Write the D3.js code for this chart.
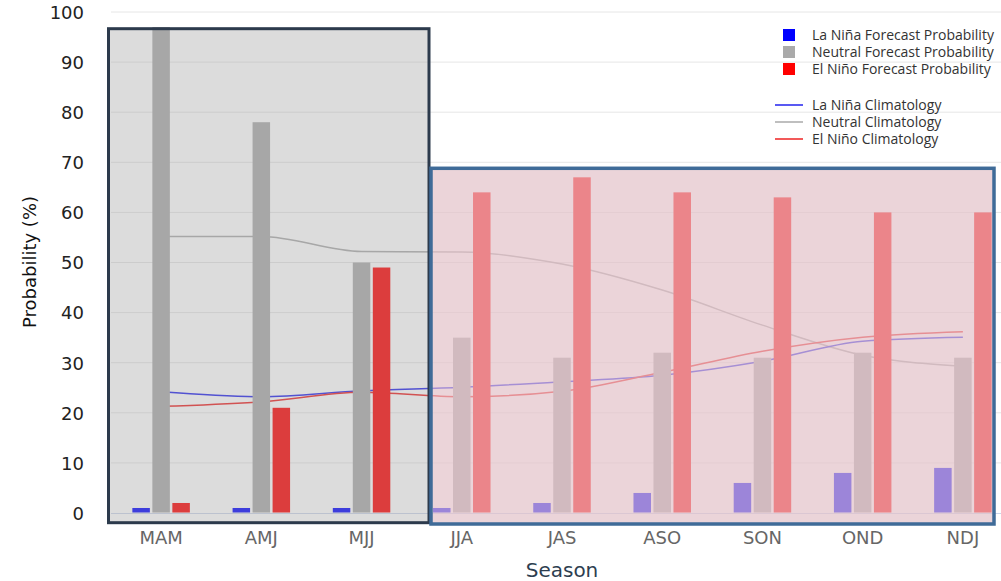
<!DOCTYPE html>
<html><head><meta charset="utf-8">
<script src="https://cdn.jsdelivr.net/npm/d3@7"></script>
<style>body{margin:0;background:#fff}svg{display:block}</style>
</head><body>
<svg id="chart" width="1001" height="581"></svg>
<script>
const seasons = ["MAM","AMJ","MJJ","JJA","JAS","ASO","SON","OND","NDJ"];
const laNinaProb  = [1, 1, 1, 1, 2, 4, 6, 8, 9];
const neutralProb = [97, 78, 50, 35, 31, 32, 31, 32, 31];
const elNinoProb  = [2, 21, 49, 64, 67, 64, 63, 60, 60];
const laNinaClim  = [24.2, 23.2, 24.4, 25.1, 26.2, 27.5, 30.3, 34.3, 35.1];
const neutralClim = [55.2, 55.2, 52.2, 52.1, 49.7, 44.5, 37.5, 31.5, 29.3];
const elNinoClim  = [21.3, 22.2, 24.1, 23.2, 24.3, 28.1, 32.3, 35.1, 36.2];
const yTicks = [0,10,20,30,40,50,60,70,80,90,100];
const seriesNames = ["La Niña","Neutral","El Niño"];

const svg = d3.select("#chart");
const x0 = d3.scaleBand().domain(seasons).range([111, 1013]);
const x1 = d3.scaleBand().domain(seriesNames).range([-28.75, 28.75]).paddingInner(0.125);
const y = d3.scaleLinear().domain([0, 100]).range([513, 12]);
const cx = s => x0(s) + x0.bandwidth()/2;

const colors = {"La Niña":"#0000ff","Neutral":"#aaaaaa","El Niño":"#ff0000"};

// gridlines
svg.append("g").selectAll("line").data(yTicks.filter(d=>d>0)).join("line")
  .attr("x1", 111).attr("x2", 1013).attr("y1", d=>y(d)).attr("y2", d=>y(d))
  .attr("stroke", "#e6e6e6").attr("stroke-width", 1);
// x axis line
svg.append("line").attr("x1",111).attr("x2",1013).attr("y1",y(0)+0.5).attr("y2",y(0)+0.5)
  .attr("stroke","#ccd6eb").attr("stroke-width",1);

// y tick labels
const yAxis = d3.axisLeft(y).tickValues(yTicks).tickSize(0).tickPadding(0);
const gy = svg.append("g").attr("transform","translate(84,0)").call(yAxis);
gy.select(".domain").remove();
gy.selectAll("text").attr("font-family","DejaVu Sans").attr("font-size",18).attr("fill","#222").attr("dy","0.35em");

// x tick labels
const xAxis = d3.axisBottom(x0).tickSize(0).tickPadding(0);
const gx = svg.append("g").attr("transform","translate(0,531)").call(xAxis);
gx.select(".domain").remove();
gx.selectAll("text").attr("font-family","DejaVu Sans").attr("font-size",18).attr("fill","#666");

// axis titles
svg.append("text").attr("x",562).attr("y",577).attr("text-anchor","middle")
  .attr("font-family","DejaVu Sans").attr("font-size",20).attr("fill","#2d3e50").text("Season");
svg.append("text").attr("transform","translate(36,262) rotate(-90)").attr("text-anchor","middle")
  .attr("font-family","DejaVu Sans").attr("font-size",18).attr("fill","#111").text("Probability (%)");

// climatology lines
const line = d3.line().x((d,i)=>cx(seasons[i])).y(d=>y(d)).curve(d3.curveMonotoneX);
[[neutralClim,"#aaaaaa"],[laNinaClim,"#2222ee"],[elNinoClim,"#ee2222"]].forEach(([data,c])=>{
  svg.append("path").datum(data).attr("d",line).attr("fill","none").attr("stroke",c).attr("stroke-width",1.5);
});

// bars
const barData = [];
seasons.forEach((s,i)=>{
  barData.push({s, k:"La Niña", v:laNinaProb[i]});
  barData.push({s, k:"Neutral", v:neutralProb[i]});
  barData.push({s, k:"El Niño", v:elNinoProb[i]});
});
svg.append("g").selectAll("rect").data(barData).join("rect")
  .attr("x", d=>cx(d.s)+x1(d.k)).attr("width", x1.bandwidth())
  .attr("y", d=>y(d.v)).attr("height", d=>y(0)-y(d.v)-0.5)
  .attr("fill", d=>colors[d.k]);

// overlay boxes
svg.append("rect").attr("x",108.5).attr("y",28.7).attr("width",320.5).attr("height",494)
  .attr("fill","rgb(162,162,162)").attr("fill-opacity",0.376)
  .attr("stroke","#2c3a4c").attr("stroke-width",3);
svg.append("rect").attr("x",431).attr("y",168.3).attr("width",563).attr("height",524-168.3)
  .attr("fill","rgb(226,192,200)").attr("fill-opacity",0.69)
  .attr("stroke","#3f6b98").attr("stroke-width",3.5);

// legend
const lg = svg.append("g").attr("font-family","Open Sans").attr("font-size",14).attr("fill","#333");
const legBars = [["La Niña Forecast Probability","#0000ff"],["Neutral Forecast Probability","#aaaaaa"],["El Niño Forecast Probability","#ff0000"]];
legBars.forEach(([t,c],i)=>{
  const yy = 35 + i*17;
  lg.append("rect").attr("x",783).attr("y",yy-6).attr("width",12).attr("height",12).attr("fill",c);
  lg.append("text").attr("x",812).attr("y",yy).attr("dy","0.35em").text(t);
});
const legLines = [["La Niña Climatology","#2222ee"],["Neutral Climatology","#aaaaaa"],["El Niño Climatology","#ee2222"]];
legLines.forEach(([t,c],i)=>{
  const yy = 105 + i*17;
  lg.append("line").attr("x1",775).attr("x2",803).attr("y1",yy).attr("y2",yy).attr("stroke",c).attr("stroke-width",1.5);
  lg.append("text").attr("x",812).attr("y",yy).attr("dy","0.35em").text(t);
});
</script>
</body></html>
